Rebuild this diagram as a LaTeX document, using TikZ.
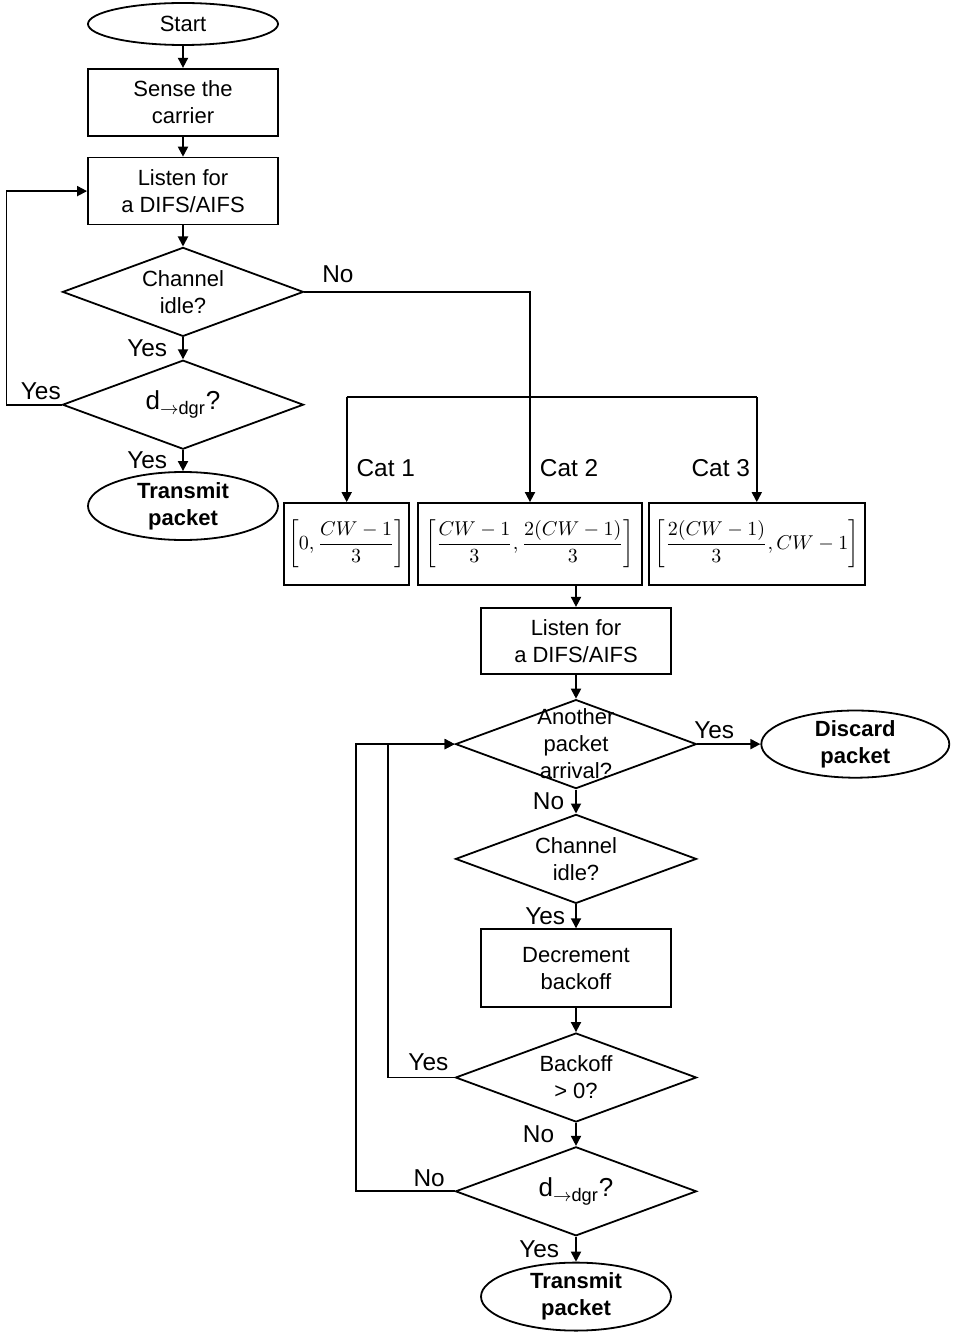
\documentclass[tikz,border=0pt]{standalone}
\usepackage{amsmath}
\usepackage{fontspec}
\setmainfont{Liberation Sans}
\usetikzlibrary{arrows.meta, shapes.geometric, positioning}

\begin{document}
\begin{tikzpicture}[>={Triangle[length=5pt,width=5pt]},line width=0.9pt,node distance=11.5pt,font=\fontsize{11}{13.5}\selectfont]
		\tikzstyle{terminal}=[draw,ellipse,minimum width=95pt,minimum height=34pt,inner sep=0pt,align=center,font=\fontsize{11}{13.5}\selectfont\bfseries]
		\tikzstyle{process}=[draw,rectangle,minimum width=95pt,minimum height=33.5pt,align=center]
		\tikzstyle{decision}=[draw,diamond,minimum width=120.5pt,minimum height=44.5pt,inner sep=0pt,aspect=2.7,align=center]
		\tikzstyle{cwbox}=[draw,rectangle,minimum height=41pt,inner sep=1pt,font=\fontsize{10}{12}\selectfont]
		\tikzstyle{answer}=[font=\fontsize{12.2}{14}\selectfont,inner sep=2pt]
		
		\useasboundingbox (-91.5pt,12pt) rectangle (386pt,-656.5pt);
		
		% left column
		\node[terminal] (start) [minimum height=21pt,font=\fontsize{11}{13.5}\selectfont] {Start};
		\node[process] (sense) [below=11pt of start] {Sense the\\carrier};
		\node[process] (listen1) [below=10pt of sense] {Listen for\\a DIFS/AIFS};
		\node[decision] (idle1) [below=10.5pt of listen1] {Channel\\idle?};
		\node[decision] (dgr1) [below=11pt of idle1,font=\fontsize{13}{15}\selectfont] {d\textsubscript{$\rightarrow$dgr}?};
		\node[terminal] (tx1) [below=10.5pt of dgr1] {Transmit\\packet};
		
		% contention windows
		\node[cwbox,minimum width=112pt] (cat2) at (173.5pt,-260pt) {$\left[\dfrac{CW-1}{3},\dfrac{2(CW-1)}{3}\right]$};
		\node[cwbox,minimum width=62.5pt] (cat1) [left=3.5pt of cat2] {$\left[0,\dfrac{CW-1}{3}\right]$};
		\node[cwbox,minimum width=108pt] (cat3) [right=2.5pt of cat2] {$\left[\dfrac{2(CW-1)}{3},CW-1\right]$};
		\coordinate[above=52.5pt of cat2.north] (split);
		
		% right column
		\node[process,minimum height=33pt] (listen2) [below=10.5pt of cat2,xshift=23pt] {Listen for\\a DIFS/AIFS};
		\node[decision,label={[align=center]center:Another\\packet\\arrival?}] (another) [below=12pt of listen2] {};
		\node[terminal,minimum height=33pt,minimum width=94pt] (discard) [right=31.5pt of another] {Discard\\packet};
		\node[decision] (idle2) [below=12pt of another] {Channel\\idle?};
		\node[process,minimum height=39pt] (backoff) [below=12pt of idle2] {Decrement\\backoff};
		\node[decision] (check) [below=12pt of backoff] {Backoff\\> 0?};
		\node[decision,font=\fontsize{13}{15}\selectfont] (dgr2) [below=11.5pt of check] {d\textsubscript{$\rightarrow$dgr}?};
		\node[terminal] (tx2) [below=12.5pt of dgr2] {Transmit\\packet};
		
		\path[->]
		(start) edge (sense)
		(sense) edge (listen1)
		(listen1) edge (idle1)
		(idle1) edge node[answer,left=5.5pt] {Yes} (dgr1)
		(dgr1) edge node[answer,left=5.5pt] {Yes} (tx1)
		
		(listen2) edge (another)
		(another) edge node[answer,above right,at start,inner sep=1pt,xshift=-3pt,yshift=1pt] {Yes} (discard)
		(another) edge node[answer,left=3.5pt] {No} (idle2)
		(idle2) edge node[answer,left=3pt] {Yes} (backoff)
		(backoff) edge (check)
		(check) edge node[answer,left=8.5pt] {No} (dgr2)
		(dgr2) edge node[answer,left=6pt] {Yes} (tx2);
		
		\draw[->] (dgr1.west) node[answer,above left,xshift=2pt] {Yes} -- ++(-27.5pt,0) |- (listen1.west);
		\draw (idle1.east) node[answer,above right,xshift=6.5pt,yshift=2pt] {No} -| (split);
		\draw (split -| cat1) -- (split -| cat3);
		\draw[->] (split -| cat1) -- node[answer,right=2.5pt,pos=0.68] {Cat 1} (cat1);
		\draw[->] (split) -- node[answer,right=2.5pt,pos=0.68] {Cat 2} (cat2);
		\draw[->] (split -| cat3) -- node[answer,left=1pt,pos=0.68] {Cat 3} (cat3);
		\draw[->] (listen2.north |- cat2.south) -- (listen2);
		\draw[->] (check.west) node[answer,above left=1pt] {Yes} -- ++(-33.5pt,0) |- (another.west);
		\draw[->] (dgr2.west) node[answer,above left,xshift=-2.5pt] {No} -- ++(-49.5pt,0) |- (another.west);
		
	\end{tikzpicture}
\end{document}
